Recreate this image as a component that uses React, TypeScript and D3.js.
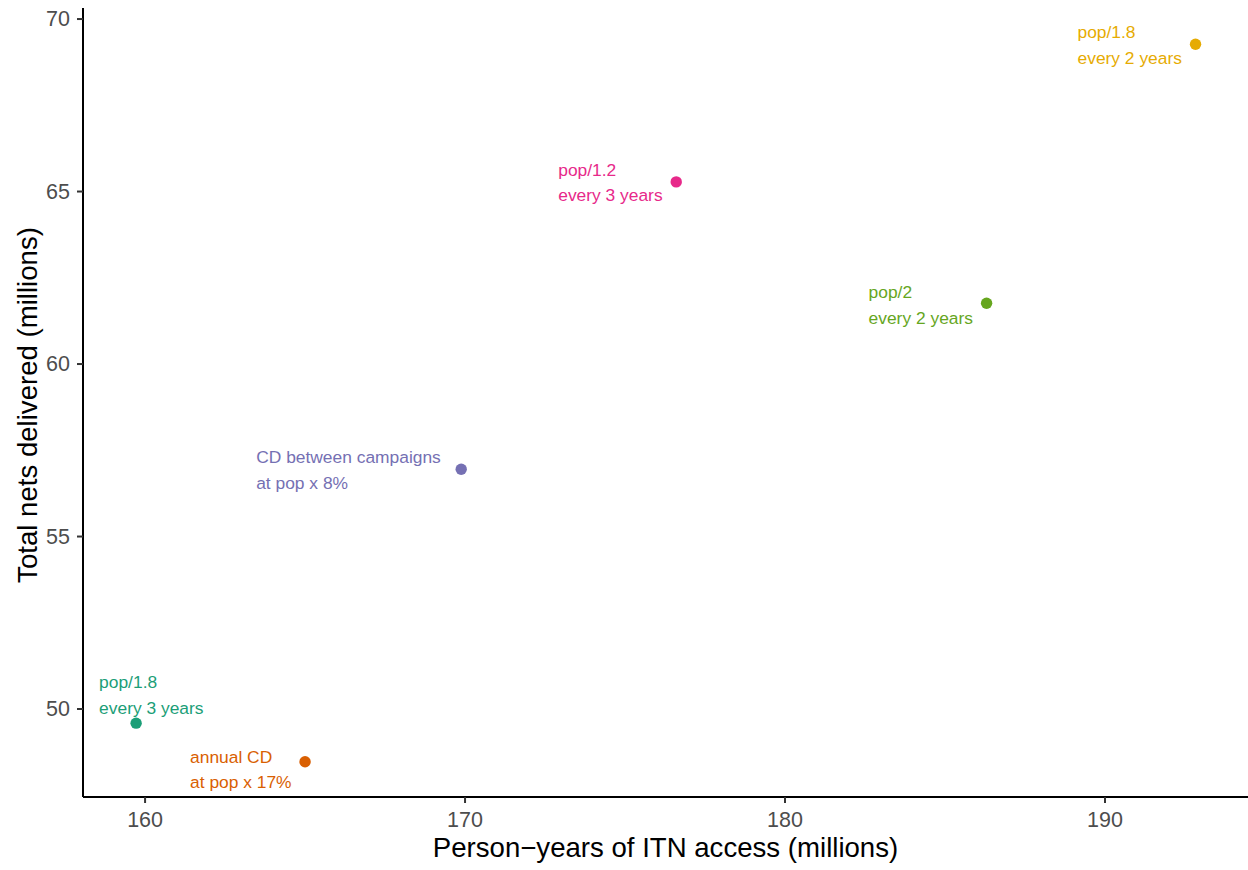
import React from "react";
import * as d3 from "d3";

const labelLine1 = ["pop/1.8", "annual CD", "CD between campaigns", "pop/1.2", "pop/2", "pop/1.8"];
const labelLine2 = ["every 3 years", "at pop x 17%", "at pop x 8%", "every 3 years", "every 2 years", "every 2 years"];
const personYears = [159.72, 165.0, 169.88, 176.6, 186.3, 192.83];
const totalNets = [49.59, 48.47, 56.95, 65.28, 61.76, 69.27];
const colors = ["#1B9E77", "#D95F02", "#7570B3", "#E7298A", "#66A61E", "#E6AB02"];
const xTicks = [160, 170, 180, 190];
const yTicks = [50, 55, 60, 65, 70];
// label block placement relative to point (pixels): left edge offset, first-line centre offset
const labelDx = [-37, -115, -205, -118, -118, -118];
const labelDy = [-41, -5, -12, -12, -11, -12];

const W = 1248;
const H = 870;
const left = 83;
const right = 1248;
const top = 8;
const bottom = 797;

export default function App() {
  const x = d3.scaleLinear().domain([158.06, 194.47]).range([left, right]);
  const y = d3.scaleLinear().domain([47.45, 70.32]).range([bottom, top]);
  const font = "'Liberation Sans', Arial, Helvetica, sans-serif";
  return (
    <div style={{ position: "absolute", left: 0, top: 0 }}>
      <svg width={W} height={H} style={{ display: "block", fontFamily: font }}>
        <rect x={0} y={0} width={W} height={H} fill="#ffffff" />
        {/* axes */}
        <line x1={left} x2={right} y1={bottom} y2={bottom} stroke="#000" strokeWidth={2} />
        <line x1={left} x2={left} y1={top} y2={bottom} stroke="#000" strokeWidth={2} />
        {xTicks.map((t) => (
          <g key={"x" + t}>
            <line x1={x(t)} x2={x(t)} y1={bottom} y2={bottom + 6} stroke="#333333" strokeWidth={2} />
            <text x={x(t)} y={bottom + 23} textAnchor="middle" dominantBaseline="central" fontSize={21.5} fill="#4D4D4D">
              {t}
            </text>
          </g>
        ))}
        {yTicks.map((t) => (
          <g key={"y" + t}>
            <line x1={left - 6} x2={left} y1={y(t)} y2={y(t)} stroke="#333333" strokeWidth={2} />
            <text x={left - 13} y={y(t)} textAnchor="end" dominantBaseline="central" fontSize={21.5} fill="#4D4D4D">
              {t}
            </text>
          </g>
        ))}
        <text x={(left + right) / 2} y={857} textAnchor="middle" fontSize={27.6} fill="#000">
          Person−years of ITN access (millions)
        </text>
        <text
          transform={`translate(37, 405) rotate(-90)`}
          textAnchor="middle"
          fontSize={27.6}
          fill="#000"
        >
          Total nets delivered (millions)
        </text>
        {personYears.map((px, i) => (
          <g key={"p" + i}>
            <circle cx={x(px)} cy={y(totalNets[i])} r={5.7} fill={colors[i]} />
            <text
              x={x(px) + labelDx[i]}
              y={y(totalNets[i]) + labelDy[i]}
              dominantBaseline="central"
              fontSize={17.4}
              fill={colors[i]}
            >
              {labelLine1[i]}
            </text>
            <text
              x={x(px) + labelDx[i]}
              y={y(totalNets[i]) + labelDy[i] + 25.5}
              dominantBaseline="central"
              fontSize={17.4}
              fill={colors[i]}
            >
              {labelLine2[i]}
            </text>
          </g>
        ))}
      </svg>
    </div>
  );
}
